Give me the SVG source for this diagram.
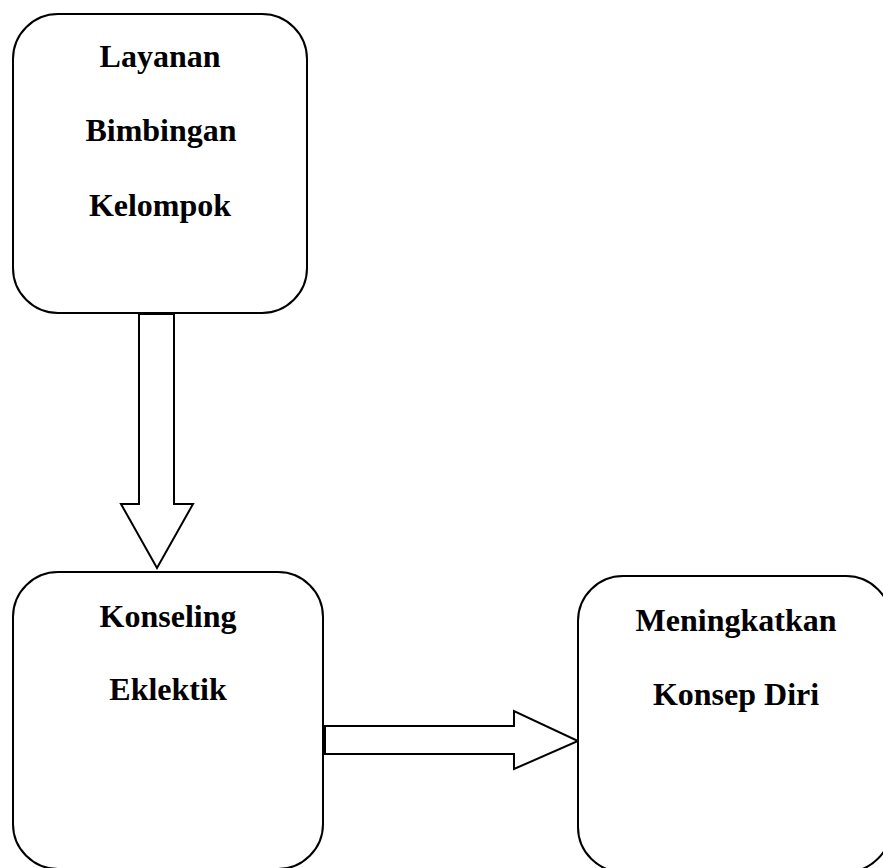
<svg xmlns="http://www.w3.org/2000/svg" width="883" height="868" viewBox="0 0 883 868">
<style>
.box{fill:#fff;stroke:#000;stroke-width:2}
.arr{fill:#fff;stroke:#000;stroke-width:2;stroke-linejoin:miter}
.t{font-family:"Liberation Serif","Times New Roman",serif;font-weight:bold;font-size:32px;fill:#000;text-anchor:middle}
</style>
<rect width="883" height="868" fill="#fff"/>
<g id="connectors">
<polygon class="arr" points="139,314 174,314 174,504 193,504 157,568 121,504 139,504"/>
<polygon class="arr" points="325,726 514,726 514,711 578,741 514,769 514,754 325,754"/>
</g>
<g id="node-layanan">
<rect class="box" x="13" y="14" width="294" height="299" rx="45" ry="45"/>
<text class="t" x="160" y="67">Layanan</text>
<text class="t" x="161" y="141">Bimbingan</text>
<text class="t" x="160" y="216">Kelompok</text>
</g>
<g id="node-konseling">
<rect class="box" x="13" y="572" width="310" height="297" rx="45" ry="45"/>
<text class="t" x="168" y="627">Konseling</text>
<text class="t" x="168" y="700">Eklektik</text>
</g>
<g id="node-meningkatkan">
<rect class="box" x="578" y="576" width="313" height="296" rx="45" ry="45"/>
<text class="t" x="736" y="631">Meningkatkan</text>
<text class="t" x="736" y="705">Konsep Diri</text>
</g>
</svg>
